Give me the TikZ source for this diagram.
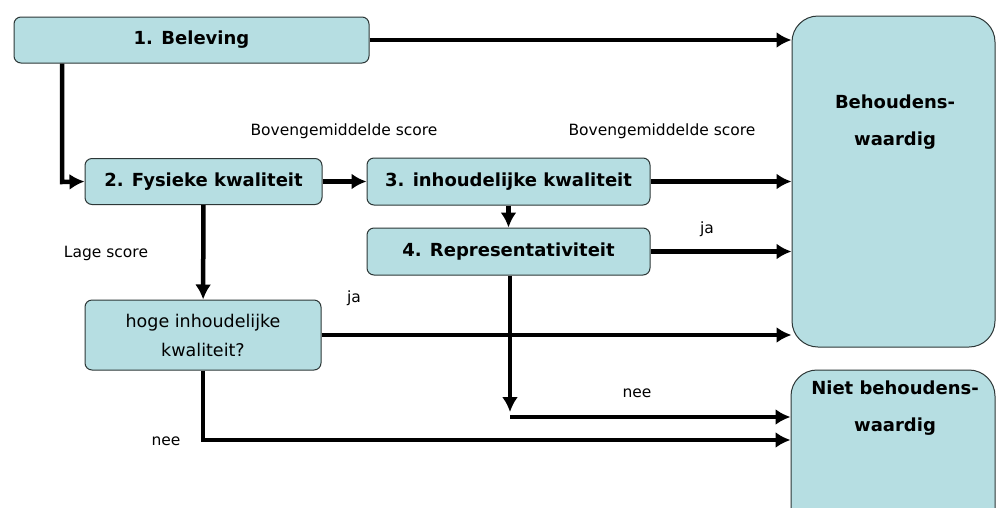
\documentclass[tikz,border=0pt]{standalone}
\usepackage{fontspec}
\setmainfont{DejaVu Sans}
\usepackage{tikz}
\usetikzlibrary{arrows.meta}
\definecolor{boxfill}{RGB}{182,222,226}
\definecolor{boxline}{RGB}{45,55,55}

\begin{document}
\begin{tikzpicture}[x=1pt,y=-1pt,>={Latex[length=15pt,width=16pt]},
	box/.style={draw=boxline, fill=boxfill, rounded corners=7pt, line width=1pt, inner sep=0pt, align=center, font=\bfseries\fontsize{18}{20}\selectfont},
	endbox/.style={box, rounded corners=26pt},
	endtext/.style={align=center, inner sep=0pt, font=\bfseries\fontsize{18}{37}\selectfont},
	lbl/.style={inner sep=0pt, font=\fontsize{15.5}{17}\selectfont},
	flow/.style={->, line width=4.5pt}]
	\clip (0,0) rectangle (996,507);
	\fill[white] (0,0) rectangle (996,507);
	\node [box, minimum width=355pt, minimum height=46pt] (n1) at (191.5,40) {1. Beleving};
	\node [box, minimum width=237pt, minimum height=46pt] (n2) at (203.5,181.5) {2. Fysieke kwaliteit};
	\node [box, minimum width=283pt, minimum height=47pt] (n3) at (508.5,181.5) {3. inhoudelijke kwaliteit};
	\node [box, minimum width=283pt, minimum height=47pt] (n4) at (508.5,251.5) {4. Representativiteit};
	\node [box, minimum width=236pt, minimum height=70pt, font=\fontsize{17.5}{29}\selectfont] (n5) at (203,335) {hoge inhoudelijke\\kwaliteit?};
	\node [endbox, minimum width=203pt, minimum height=331pt] (n6) at (893.5,181.5) {};
	\node [endbox, minimum width=204pt, minimum height=170pt] (n7) at (893,455) {};
	\node [endtext] (t6) at (895,122) {Behoudens-\\waardig};
	\node [endtext] (t7) at (895,408) {Niet behoudens-\\waardig};
	\coordinate (c1) at (62,182);
	\coordinate (c2) at (510,412);
	\coordinate (c3) at (510,417);
	\coordinate (c4) at (203,440);
	\draw [flow] (n1.east) -- (n1.east -| n6.west);
	\draw [flow] (n1.south -| c1) -- (c1) -- (n2.west);
	\draw [flow] (n2) -- (n3);
	\draw [flow] (n3.east) -- (n3.east -| n6.west);
	\draw [flow] (n3) -- (n4);
	\draw [flow] (n4.east) -- (n4.east -| n6.west);
	\draw [flow] (n2) -- (n5);
	\draw [flow] (n5.east) -- (n5.east -| n6.west);
	\draw [flow] (n4.south -| c2) -- (c2);
	\draw [flow] (c3) -- (c3 -| n7.west);
	\draw [flow] (n5.south) -- (c4) -- (c4 -| n7.west);
	\node [lbl] (l1) at (344,131) {Bovengemiddelde score};
	\node [lbl] (l2) at (662,131) {Bovengemiddelde score};
	\node [lbl] (l3) at (106,253) {Lage score};
	\node [lbl] (l4) at (707,229) {ja};
	\node [lbl] (l5) at (354,298) {ja};
	\node [lbl] (l6) at (637,393) {nee};
	\node [lbl] (l7) at (166,441) {nee};
\end{tikzpicture}
\end{document}
